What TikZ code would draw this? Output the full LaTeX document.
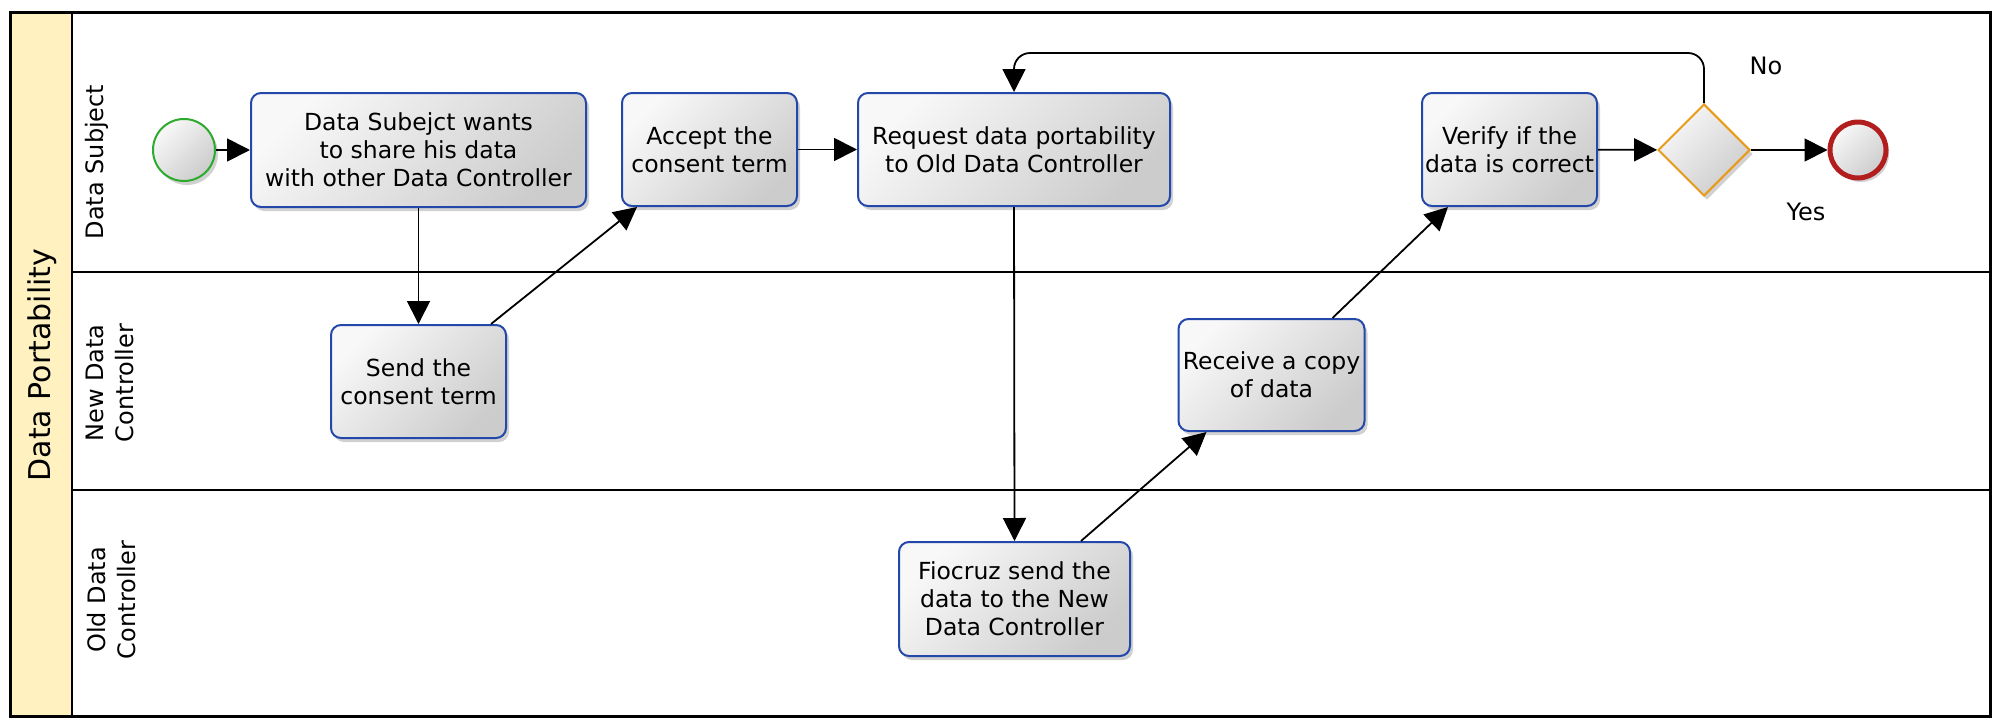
\documentclass[tikz,border=0pt]{standalone}
\usepackage{fontspec}
\setmainfont{DejaVu Sans}
\usetikzlibrary{arrows.meta,shapes.geometric,shadows,calc}
\definecolor{taskblue}{RGB}{36,72,170}
\definecolor{poolyellow}{RGB}{255,242,192}
\definecolor{startgreen}{RGB}{44,170,44}
\definecolor{endred}{RGB}{178,30,30}
\definecolor{gworange}{RGB}{232,154,24}
\definecolor{shadetop}{RGB}{248,248,248}
\definecolor{shadebot}{RGB}{204,204,204}
\tikzset{
  shadowed/.style={drop shadow={shadow xshift=3pt,shadow yshift=-4pt,opacity=0.18,fill=black}},
  task/.style={rectangle, rounded corners=10pt, draw=taskblue, line width=2pt,
    top color=shadetop, bottom color=shadebot, shading angle=45, shadowed,
    align=center, inner sep=0pt, font=\fontsize{23.5}{28}\selectfont},
  startev/.style={circle, draw=startgreen, line width=2pt, minimum size=62pt, inner sep=0pt,
    top color=shadetop, bottom color=shadebot, shading angle=45, shadowed},
  endev/.style={circle, draw=endred, line width=5pt, minimum size=56pt, inner sep=0pt,
    top color=shadetop, bottom color=shadebot, shading angle=45, shadowed},
  gateway/.style={diamond, draw=gworange, line width=2pt, minimum width=92pt, minimum height=92pt,
    inner sep=0pt, top color=shadetop, bottom color=shadebot, shading angle=45, shadowed},
  flow/.style={draw=black, line width=1.8pt, -{Triangle[length=23pt,width=23pt]}},
  lanelabel/.style={rotate=90, align=center, font=\fontsize{24}{30}\selectfont},
  plainlabel/.style={font=\fontsize{24}{28}\selectfont}
}
\begin{document}
\begin{tikzpicture}[x=1pt,y=-1pt]
\useasboundingbox (0,0) rectangle (2000,726);
% pool and lanes
\filldraw[fill=poolyellow, draw=black, line width=2pt] (10,12) rectangle (72,716);
\draw[line width=2.5pt] (72,272) -- (1990,272);
\draw[line width=2.5pt] (72,490) -- (1990,490);
\draw[line width=3pt] (10,12) rectangle (1990,716);
\node[lanelabel, font=\fontsize{30}{34}\selectfont] (pool) at (42,365) {Data Portability};
\node[lanelabel] (l1) at (97,162) {Data Subject};
\node[lanelabel] (l2) at (110,383) {New Data\\Controller};
\node[lanelabel] (l3) at (112,600) {Old Data\\Controller};
% events and tasks
\node[startev] (start) at (184,150) {};
\node[task, minimum width=335pt, minimum height=114pt] (t1) at (418.5,150) {Data Subejct wants\\to share his data\\with other Data Controller};
\node[task, minimum width=175pt, minimum height=113pt] (t2) at (709.5,149.5) {Accept the\\consent term};
\node[task, minimum width=312pt, minimum height=113pt] (t3) at (1014,149.5) {Request data portability\\to Old Data Controller};
\node[task, minimum width=175pt, minimum height=113pt] (t4) at (1509.5,149.5) {Verify if the\\data is correct};
\node[gateway] (gw) at (1704,150) {};
\node[endev] (end) at (1858,150) {};
\node[task, minimum width=175pt, minimum height=113pt] (t5) at (418.5,381.5) {Send the\\consent term};
\node[task, minimum width=186pt, minimum height=112pt] (t6) at (1271.5,375) {Receive a copy\\of data};
\node[task, minimum width=231pt, minimum height=114pt] (t7) at (1014.5,599) {Fiocruz send the\\data to the New\\Data Controller};
\node[plainlabel] (no) at (1766,66) {No};
\node[plainlabel] (yes) at (1806,212) {Yes};
% flows
\draw[flow] (start) -- (t1);
\draw[flow] (t1.south) -- (t5.north);
\draw[flow] ($(t5.north east)+(-16,0)$) -- ($(t2.south west)+(16,0)$);
\draw[flow] (t2) -- (t3);
\draw[flow] (t3.south) -- (t7.north);
\draw[flow] ($(t7.north east)+(-50,0)$) -- ($(t6.south west)+(29,0)$);
\draw[flow] ($(t6.north east)+(-33,0)$) -- ($(t4.south west)+(27,0)$);
\draw[flow] (t4) -- (gw);
\draw[flow] (gw) -- (end);
\draw[flow, rounded corners=16pt] (gw.north) -- ++(0,-50) -| (t3.north);
\end{tikzpicture}
\end{document}
